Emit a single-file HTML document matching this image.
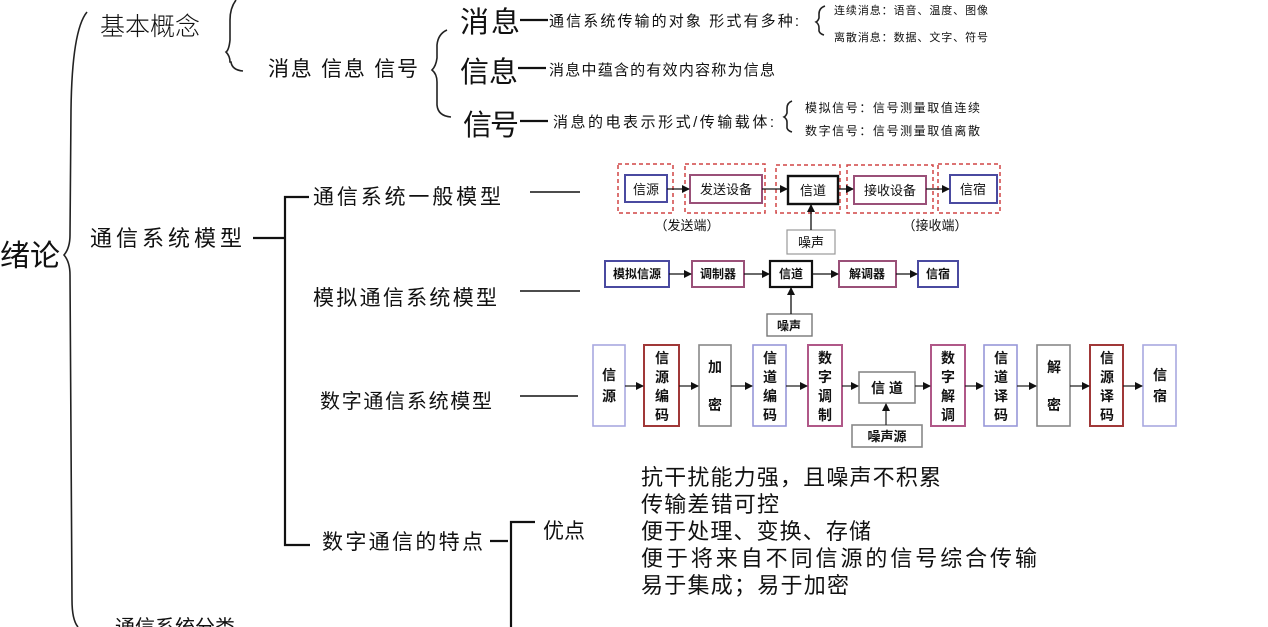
<!DOCTYPE html>
<html><head><meta charset="utf-8"><style>
html,body{margin:0;padding:0;background:#fff;}
svg{display:block;}
text{font-family:"Liberation Sans","Noto Sans CJK SC",sans-serif;fill:#111;}
.b{font-weight:bold;}
</style></head><body>
<svg width="1268" height="627" viewBox="0 0 1268 627" xmlns="http://www.w3.org/2000/svg">
<defs>
<marker id="a" markerWidth="8" markerHeight="8" refX="7" refY="4" orient="auto" markerUnits="userSpaceOnUse"><path d="M0,0 L8,4 L0,8 z" fill="#111"/></marker>
</defs>
<g fill="none" stroke="#222" stroke-width="1.6">
<!-- big brace -->
<path d="M87,12 Q72,30 71,110 L70,235 Q70,248 64,255 Q70,262 70,275 L72,600 Q72,620 78,627"/>
<!-- brace basic -->
<path d="M236,0 Q230,8 230,20 L230,40 Q229,50 226,52 Q230,56 230,62 L231,62 Q232,70 243,71"/>
<!-- brace messages -->
<path d="M447,30 Q438,34 437,45 L437,58 Q436,66 432,70 Q437,74 437,82 L437,105 Q438,116 451,117"/>
<path d="M825,6 Q819,8 819,14 L819,18 Q818,21 816,22 Q819,24 819,28 L819,31 Q820,34 824,35"/>
<path d="M792,101 Q787,103 787,108 L787,113 Q786,116 784,117 Q787,119 787,122 L787,128 Q788,131 792,132"/>
</g>
<g stroke="#111" stroke-width="2.2" fill="none">
<line x1="520" y1="20" x2="548" y2="20"/>
<line x1="518" y1="68" x2="546" y2="68"/>
<line x1="520" y1="121" x2="548" y2="121"/>
<line x1="253" y1="238" x2="285" y2="238"/>
<polyline points="309,197 285,197 285,545 310,545"/>
<line x1="490" y1="541" x2="508" y2="541"/>
<polyline points="535,522 511,522 511,627"/>
</g>
<g stroke="#111" stroke-width="1.6">
<line x1="530" y1="192" x2="580" y2="192"/>
<line x1="520" y1="291" x2="580" y2="291"/>
<line x1="520" y1="396" x2="578" y2="396"/>
</g>
<text x="0" y="266" font-size="30">绪论</text>
<text x="100" y="35" font-size="25" fill="#333" style="font-weight:300">基本概念</text>
<text x="268" y="76" font-size="21" textLength="150">消息 信息 信号</text>
<text x="460" y="32" font-size="29" textLength="60">消息</text>
<text x="460" y="82" font-size="29" textLength="58">信息</text>
<text x="463" y="135" font-size="29" textLength="56">信号</text>
<text x="549" y="26" font-size="15" textLength="250">通信系统传输的对象 形式有多种:</text>
<text x="834" y="14" font-size="11" textLength="154">连续消息：语音、温度、图像</text>
<text x="834" y="41" font-size="11" textLength="154">离散消息：数据、文字、符号</text>
<text x="549" y="75" font-size="15" textLength="226">消息中蕴含的有效内容称为信息</text>
<text x="553" y="127" font-size="15" textLength="221">消息的电表示形式/传输载体:</text>
<text x="805" y="112" font-size="12" textLength="175">模拟信号：信号测量取值连续</text>
<text x="805" y="135" font-size="12" textLength="175">数字信号：信号测量取值离散</text>
<text x="90" y="246" font-size="22" fill="#777" textLength="152">通信系统模型</text>
<text x="313" y="204" font-size="21" textLength="188">通信系统一般模型</text>
<text x="313" y="305" font-size="21" textLength="184">模拟通信系统模型</text>
<text x="320" y="408" font-size="20" textLength="172">数字通信系统模型</text>
<text x="322" y="549" font-size="21" textLength="161">数字通信的特点</text>
<text x="543" y="538" font-size="21">优点</text>
<g font-size="22">
<text x="641" y="485" textLength="300">抗干扰能力强，且噪声不积累</text>
<text x="641" y="512" textLength="138">传输差错可控</text>
<text x="641" y="539" textLength="230">便于处理、变换、存储</text>
<text x="641" y="566" textLength="396">便于将来自不同信源的信号综合传输</text>
<text x="641" y="593" textLength="208">易于集成；易于加密</text>
</g>
<text x="115" y="634" font-size="20" fill="#444">通信系统分类</text>

<!-- general model -->
<g fill="none" stroke="#d04545" stroke-width="1.5" stroke-dasharray="4,3">
<rect x="618" y="164" width="55" height="49"/>
<rect x="685" y="164" width="80" height="49"/>
<rect x="776" y="165" width="64" height="48"/>
<rect x="847" y="165" width="86" height="48"/>
<rect x="938" y="164" width="62" height="49"/>
</g>
<g fill="#fff" stroke-width="2">
<rect x="625" y="175" width="42" height="27" stroke="#4a4aa0"/>
<rect x="690" y="175" width="72" height="28" stroke="#9a5078"/>
<rect x="788" y="176" width="50" height="28" stroke="#111" stroke-width="2.4"/>
<rect x="854" y="176" width="72" height="28" stroke="#9a5078"/>
<rect x="950" y="175" width="47" height="28" stroke="#4a4aa0"/>
<rect x="787" y="230" width="48" height="24" stroke="#999" stroke-width="1.2"/>
</g>
<g stroke="#111" stroke-width="1.3" marker-end="url(#a)">
<line x1="667" y1="189" x2="689" y2="189"/>
<line x1="762" y1="189" x2="787" y2="189"/>
<line x1="838" y1="189" x2="853" y2="189"/>
<line x1="926" y1="189" x2="949" y2="189"/>
<line x1="811" y1="230" x2="811" y2="205"/>
</g>
<g font-size="13" fill="#333" text-anchor="middle">
<text x="646" y="194">信源</text><text x="726" y="194">发送设备</text><text x="813" y="195">信道</text>
<text x="890" y="195">接收设备</text><text x="973" y="194">信宿</text><text x="811" y="247">噪声</text>
<text x="687" y="230">（发送端）</text><text x="935" y="230">（接收端）</text>
</g>

<!-- analog -->
<g fill="#fff" stroke-width="2">
<rect x="605" y="261" width="64" height="26" stroke="#4a4aa0"/>
<rect x="692" y="261" width="52" height="26" stroke="#9a5078"/>
<rect x="770" y="261" width="42" height="26" stroke="#111" stroke-width="2.2"/>
<rect x="839" y="261" width="57" height="26" stroke="#9a5078"/>
<rect x="918" y="261" width="40" height="26" stroke="#4a4aa0"/>
<rect x="767" y="314" width="45" height="22" stroke="#777" stroke-width="1.4"/>
</g>
<g stroke="#111" stroke-width="1.3" marker-end="url(#a)">
<line x1="669" y1="274" x2="691" y2="274"/>
<line x1="744" y1="274" x2="769" y2="274"/>
<line x1="812" y1="274" x2="838" y2="274"/>
<line x1="896" y1="274" x2="917" y2="274"/>
<line x1="791" y1="314" x2="791" y2="288"/>
</g>
<g font-size="12" class="b" text-anchor="middle" fill="#222">
<text class="b" x="637" y="278">模拟信源</text><text class="b" x="718" y="278">调制器</text><text class="b" x="791" y="278">信道</text>
<text class="b" x="867" y="278">解调器</text><text class="b" x="938" y="278">信宿</text><text class="b" x="789" y="330">噪声</text>
</g>

<!-- digital -->
<g fill="#fff" stroke-width="1.6">
<rect x="593" y="345" width="32" height="81" stroke="#a8a8e0"/>
<rect x="644" y="345" width="35" height="81" stroke="#a03838" stroke-width="2"/>
<rect x="699" y="345" width="32" height="81" stroke="#888"/>
<rect x="753" y="345" width="33" height="81" stroke="#9898d8"/>
<rect x="808" y="345" width="34" height="81" stroke="#b05888" stroke-width="2"/>
<rect x="859" y="372" width="56" height="31" stroke="#888"/>
<rect x="931" y="345" width="34" height="81" stroke="#b05888" stroke-width="2"/>
<rect x="984" y="345" width="33" height="81" stroke="#9898d8"/>
<rect x="1037" y="345" width="33" height="81" stroke="#888"/>
<rect x="1090" y="345" width="33" height="81" stroke="#a03838" stroke-width="2"/>
<rect x="1143" y="345" width="33" height="81" stroke="#a8a8e0"/>
<rect x="852" y="425" width="70" height="22" stroke="#888"/>
</g>
<g stroke="#222" stroke-width="1.2" marker-end="url(#a)">
<line x1="625" y1="386" x2="643" y2="386"/>
<line x1="679" y1="386" x2="698" y2="386"/>
<line x1="731" y1="386" x2="752" y2="386"/>
<line x1="786" y1="386" x2="807" y2="386"/>
<line x1="842" y1="386" x2="858" y2="386"/>
<line x1="915" y1="386" x2="930" y2="386"/>
<line x1="965" y1="386" x2="983" y2="386"/>
<line x1="1017" y1="386" x2="1036" y2="386"/>
<line x1="1070" y1="386" x2="1089" y2="386"/>
<line x1="1123" y1="386" x2="1142" y2="386"/>
<line x1="886" y1="425" x2="886" y2="404"/>
</g>
<g font-size="14" text-anchor="middle" fill="#222">
<text class="b" x="609" y="380">信</text><text class="b" x="609" y="401">源</text>
<text class="b" x="662" y="363">信</text><text class="b" x="662" y="382">源</text><text class="b" x="662" y="401">编</text><text class="b" x="662" y="420">码</text>
<text class="b" x="715" y="372">加</text><text class="b" x="715" y="410">密</text>
<text class="b" x="770" y="363">信</text><text class="b" x="770" y="382">道</text><text class="b" x="770" y="401">编</text><text class="b" x="770" y="420">码</text>
<text class="b" x="825" y="363">数</text><text class="b" x="825" y="382">字</text><text class="b" x="825" y="401">调</text><text class="b" x="825" y="420">制</text>
<text class="b" x="887" y="393">信 道</text>
<text class="b" x="948" y="363">数</text><text class="b" x="948" y="382">字</text><text class="b" x="948" y="401">解</text><text class="b" x="948" y="420">调</text>
<text class="b" x="1001" y="363">信</text><text class="b" x="1001" y="382">道</text><text class="b" x="1001" y="401">译</text><text class="b" x="1001" y="420">码</text>
<text class="b" x="1054" y="372">解</text><text class="b" x="1054" y="410">密</text>
<text class="b" x="1107" y="363">信</text><text class="b" x="1107" y="382">源</text><text class="b" x="1107" y="401">译</text><text class="b" x="1107" y="420">码</text>
<text class="b" x="1160" y="380">信</text><text class="b" x="1160" y="401">宿</text>
<text class="b" x="887" y="441" font-size="13">噪声源</text>
</g>
</svg>
</body></html>
